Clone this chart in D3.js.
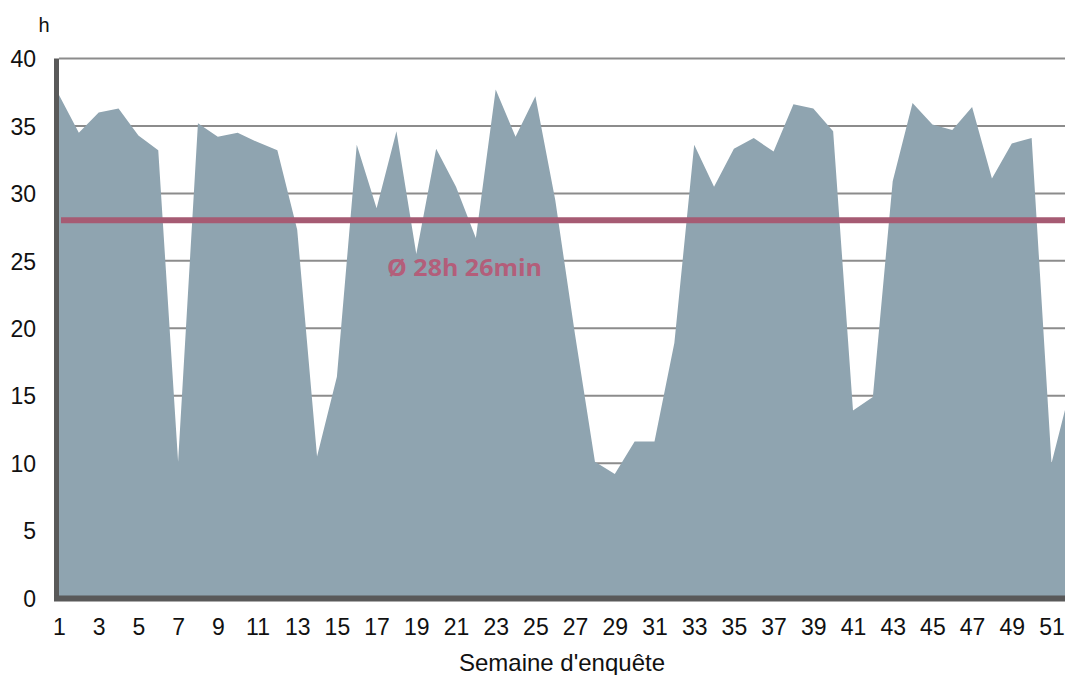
<!DOCTYPE html>
<html>
<head>
<meta charset="utf-8">
<script src="https://cdn.jsdelivr.net/npm/d3@7"></script>
<style>
  html, body { margin: 0; padding: 0; background: #fff; }
  svg { display: block; }
</style>
</head>
<body>
<svg id="chart" width="1065" height="675"></svg>
<script>
// ---- data ----
const weeks = d3.range(1, 53);
const hours = [
  37.3, 34.5, 36.0, 36.3, 34.3, 33.2, 10.1, 35.2, 34.2, 34.5,
  33.8, 33.2, 27.3, 10.5, 16.4, 33.6, 28.9, 34.6, 25.5, 33.3,
  30.5, 26.7, 37.7, 34.2, 37.2, 29.5, 19.5, 10.1, 9.2, 11.6,
  11.6, 18.9, 33.6, 30.5, 33.3, 34.1, 33.1, 36.6, 36.3, 34.6,
  13.9, 14.9, 30.9, 36.7, 35.1, 34.7, 36.4, 31.1, 33.7, 34.1,
  10.0, 15.8
];
const yTicks = [0, 5, 10, 15, 20, 25, 30, 35, 40];
const xTickLabels = d3.range(1, 52, 2);
const meanValue = 28;
const meanLabel = "Ø 28h 26min";
const yUnit = "h";
const xTitle = "Semaine d'enquête";

const data = weeks.map((w, i) => ({ week: w, value: hours[i] }));

// ---- layout ----
const svg = d3.select("#chart");
const W = 1065;
const x0 = 59, step = 19.85;
const x = d3.scaleLinear().domain([1, 52]).range([x0, x0 + 51 * step]);
const y = d3.scaleLinear().domain([0, 40]).range([598, 58.5]);

svg.append("defs").append("clipPath").attr("id", "clip")
  .append("rect").attr("x", 0).attr("y", 0).attr("width", W).attr("height", 675);

const g = svg.append("g").attr("clip-path", "url(#clip)");

// gridlines
g.append("g").selectAll("line").data(yTicks.filter(d => d > 0)).join("line")
  .attr("x1", x0).attr("x2", W)
  .attr("y1", d => y(d)).attr("y2", d => y(d))
  .attr("stroke", "#8c8c8c").attr("stroke-width", 2);

// area
const area = d3.area()
  .x(d => x(d.week))
  .y0(y(0))
  .y1(d => y(d.value));
g.append("path").datum(data)
  .attr("d", area)
  .attr("fill", "#8fa4b0");

// mean line
g.append("line")
  .attr("x1", 61).attr("x2", W)
  .attr("y1", y(meanValue)).attr("y2", y(meanValue))
  .attr("stroke", "#a65b73").attr("stroke-width", 6);

// mean label
svg.append("text")
  .attr("x", 387).attr("y", 276)
  .attr("font-family", "'Open Sans', sans-serif")
  .attr("font-weight", 700)
  .attr("font-size", 24)
  .attr("fill", "#b35e7a")
  .attr("textLength", 155)
  .attr("lengthAdjust", "spacingAndGlyphs")
  .text(meanLabel);

// axes lines
svg.append("line")
  .attr("x1", 56.5).attr("x2", 56.5)
  .attr("y1", y(40)).attr("y2", 601)
  .attr("stroke", "#595959").attr("stroke-width", 5);
svg.append("line")
  .attr("x1", 54).attr("x2", W)
  .attr("y1", 598.5).attr("y2", 598.5)
  .attr("stroke", "#595959").attr("stroke-width", 6);

// y tick labels
const yAxis = d3.axisLeft(y).tickValues(yTicks).tickSize(0).tickPadding(0);
const ya = svg.append("g").attr("transform", "translate(36,0)").call(yAxis);
ya.select(".domain").remove();
ya.selectAll("text")
  .attr("font-family", "'Liberation Sans', Arial, sans-serif")
  .attr("font-size", 23).attr("fill", "#111").attr("dy", "0.36em").attr("x", 0);

// x tick labels
const xAxis = d3.axisBottom(x).tickValues(xTickLabels).tickSize(0).tickPadding(0).tickFormat(d3.format("d"));
const xa = svg.append("g").attr("transform", "translate(0,635)").call(xAxis);
xa.select(".domain").remove();
xa.selectAll("text")
  .attr("font-family", "'Liberation Sans', Arial, sans-serif")
  .attr("font-size", 23).attr("fill", "#111").attr("dy", 0).attr("y", 0);

// unit
svg.append("text")
  .attr("x", 44).attr("y", 32)
  .attr("text-anchor", "middle")
  .attr("font-family", "'Liberation Sans', Arial, sans-serif")
  .attr("font-size", 20).attr("fill", "#111")
  .text(yUnit);

// x title
svg.append("text")
  .attr("x", 562).attr("y", 671)
  .attr("text-anchor", "middle")
  .attr("font-family", "'Liberation Sans', Arial, sans-serif")
  .attr("font-size", 24).attr("fill", "#111")
  .text(xTitle);
</script>
</body>
</html>
